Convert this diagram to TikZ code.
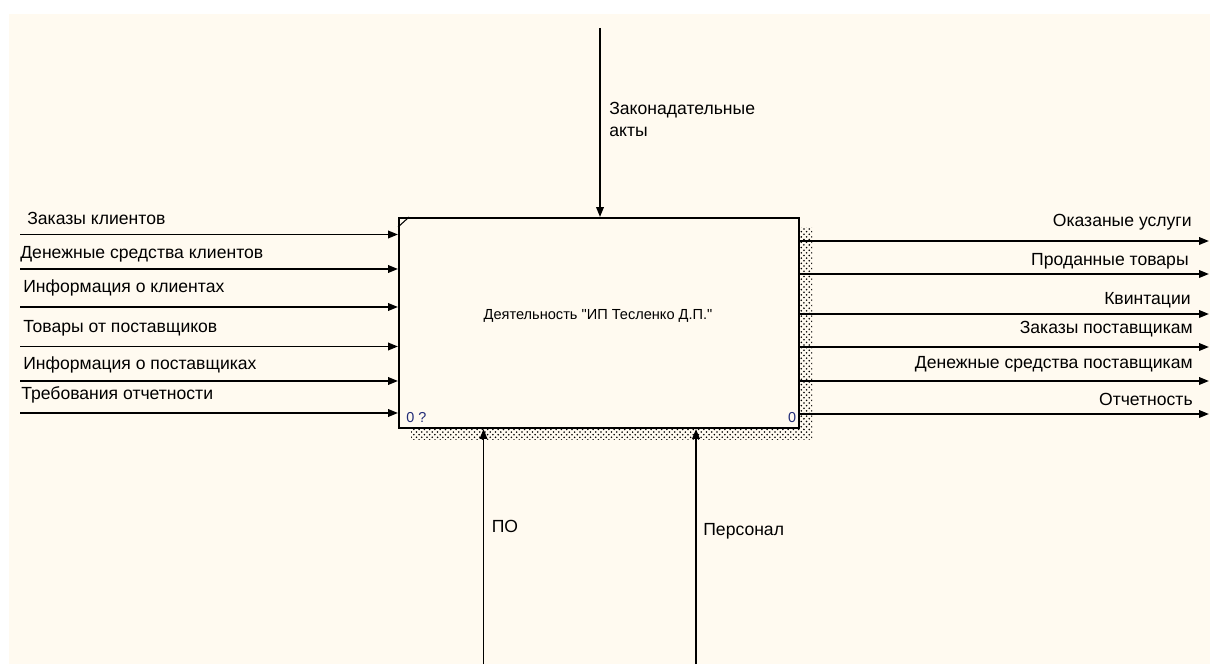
\documentclass[tikz,border=0pt]{standalone}
\usepackage{fontspec}
\setmainfont{Liberation Sans}
\usetikzlibrary{arrows.meta, patterns, positioning}

\definecolor{paper}{RGB}{255,250,240}
\definecolor{idnum}{RGB}{35,45,120}

\begin{document}
\begin{tikzpicture}[
    flow/.style={-{Triangle[length=0.2cm, width=0.15cm]}, line width=1.1pt, black},
    actbox/.style={rectangle, draw=black, line width=1.1pt, fill=paper, minimum width=8cm, minimum height=4.2cm, inner sep=0pt},
    acttext/.style={font=\fontsize{8.3}{10}\selectfont, inner sep=0pt},
    arrowlabel/.style={font=\fontsize{10}{12}\selectfont, inner sep=0pt},
    idlabel/.style={font=\fontsize{8.2}{10}\selectfont, text=idnum, inner sep=0pt}
]

% ===== Canvas =====
\useasboundingbox (0,0) rectangle (24.2,13.28);
\fill[white] (0,0) rectangle (24.2,13.28);
\fill[paper] (0.18,0) rectangle (24.2,13.0);

% ===== Activity box =====
% hatched shadow
\fill[pattern=crosshatch dots, pattern color=black] (8.22,4.48) rectangle (16.24,8.72);
\node[actbox] (act) at (11.98, 6.82) {};
\draw[line width=0.6pt] ([yshift=-0.2cm]act.north west) -- ([xshift=0.22cm]act.north west);
\node[acttext] (act_name) at (11.96, 6.96) {Деятельность \textquotedbl ИП Тесленко Д.П.\textquotedbl};
\node[idlabel, anchor=west] (act_id) at (8.12, 4.92) {0 ?};
\node[idlabel] (act_num) at (15.84, 4.92) {0};

% ===== Inputs =====
\coordinate (in1) at (0.4, 8.59);
\coordinate (in2) at (0.4, 7.90);
\coordinate (in3) at (0.4, 7.14);
\coordinate (in4) at (0.4, 6.35);
\coordinate (in5) at (0.4, 5.66);
\coordinate (in6) at (0.4, 5.02);
\draw[flow] (in1) -- (in1 -| act.west);
\draw[flow] (in2) -- (in2 -| act.west);
\draw[flow] (in3) -- (in3 -| act.west);
\draw[flow] (in4) -- (in4 -| act.west);
\draw[flow] (in5) -- (in5 -| act.west);
\draw[flow] (in6) -- (in6 -| act.west);

\node[arrowlabel, anchor=west] (lbl_in1) at (0.54, 8.92) {Заказы клиентов};
\node[arrowlabel, anchor=west] (lbl_in2) at (0.40, 8.20) {Денежные средства клиентов};
\node[arrowlabel, anchor=west] (lbl_in3) at (0.46, 7.52) {Информация о клиентах};
\node[arrowlabel, anchor=west] (lbl_in4) at (0.46, 6.72) {Товары от поставщиков};
\node[arrowlabel, anchor=west] (lbl_in5) at (0.46, 5.98) {Информация о поставщиках};
\node[arrowlabel, anchor=west] (lbl_in6) at (0.42, 5.38) {Требования отчетности};

% ===== Outputs =====
\coordinate (out1) at (24.18, 8.46);
\coordinate (out2) at (24.18, 7.80);
\coordinate (out3) at (24.18, 7.00);
\coordinate (out4) at (24.18, 6.34);
\coordinate (out5) at (24.18, 5.66);
\coordinate (out6) at (24.18, 5.00);
\draw[flow] (out1 -| act.east) -- (out1);
\draw[flow] (out2 -| act.east) -- (out2);
\draw[flow] (out3 -| act.east) -- (out3);
\draw[flow] (out4 -| act.east) -- (out4);
\draw[flow] (out5 -| act.east) -- (out5);
\draw[flow] (out6 -| act.east) -- (out6);

\node[arrowlabel, anchor=east] (lbl_out1) at (23.84, 8.84) {Оказаные услуги};
\node[arrowlabel, anchor=east] (lbl_out2) at (23.78, 8.06) {Проданные товары};
\node[arrowlabel, anchor=east] (lbl_out3) at (23.82, 7.28) {Квинтации};
\node[arrowlabel, anchor=east] (lbl_out4) at (23.86, 6.70) {Заказы поставщикам};
\node[arrowlabel, anchor=east] (lbl_out5) at (23.86, 6.00) {Денежные средства поставщикам};
\node[arrowlabel, anchor=east] (lbl_out6) at (23.86, 5.30) {Отчетность};

% ===== Control =====
\coordinate (ctl) at (12.0, 12.72);
\draw[flow] (ctl) -- (ctl |- act.north);
\node[arrowlabel, anchor=west, align=left] (lbl_ctl) at (12.18, 10.89) {Законадательные\\акты};

% ===== Mechanisms =====
\coordinate (mech1) at (9.67, 0);
\coordinate (mech2) at (13.92, 0);
\draw[flow] (mech1) -- (mech1 |- act.south);
\draw[flow] (mech2) -- (mech2 |- act.south);
\node[arrowlabel, anchor=west] (lbl_mech1) at (9.83, 2.75) {ПО};
\node[arrowlabel, anchor=west] (lbl_mech2) at (14.06, 2.65) {Персонал};

\end{tikzpicture}
\end{document}
